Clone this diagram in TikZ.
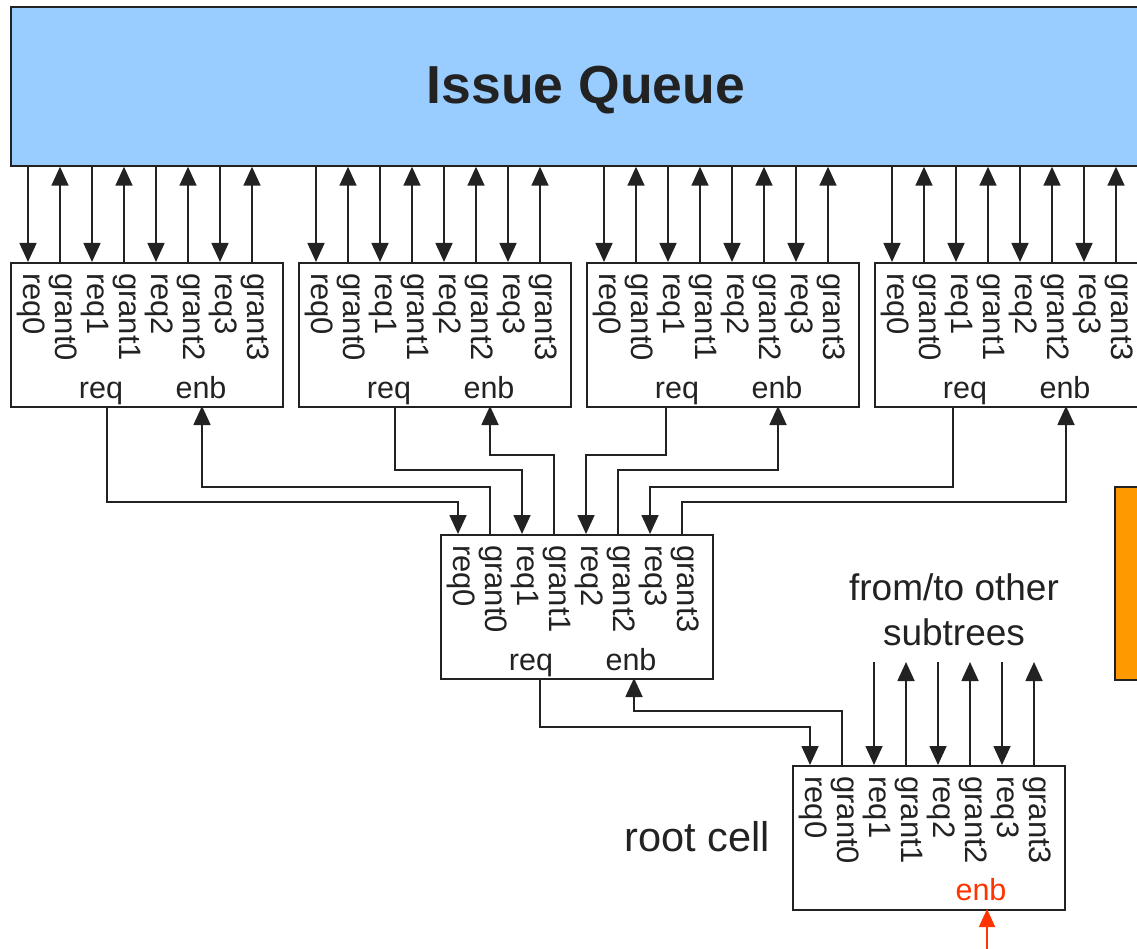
\documentclass[tikz,border=0pt]{standalone}
\usepackage{fontspec}
\setmainfont{Liberation Sans}
\usetikzlibrary{arrows.meta,calc}
\definecolor{iqblue}{HTML}{99CCFF}
\definecolor{ink}{HTML}{222222}
\definecolor{orng}{HTML}{FF9900}
\definecolor{enbred}{HTML}{FF3300}
\begin{document}
\begin{tikzpicture}[x=1pt,y=-1pt,
  box/.style={draw=ink, line width=1.7pt, inner sep=0pt, anchor=north west},
  cellbox/.style={box, minimum width=272pt, minimum height=144pt},
  wire/.style={draw=ink, line width=1.7pt},
  arr/.style={wire, -{Triangle[length=19pt,width=17pt]}},
  redarr/.style={draw=enbred, line width=1.6pt, -{Triangle[length=18pt,width=16pt]}},
  portlbl/.style={rotate=-90, anchor=west, inner sep=0pt, text=ink, font=\fontsize{31}{31}\selectfont},
  sidelbl/.style={anchor=base, inner sep=0pt, text=ink, font=\fontsize{30.5}{30.5}\selectfont},
  note/.style={anchor=base, inner sep=0pt, text=ink, font=\fontsize{37}{37}\selectfont},
]
\useasboundingbox (0,0) rectangle (1137,949);
\clip (0,0) rectangle (1137,949);

% issue queue
\node[box, fill=iqblue, minimum width=1160pt, minimum height=159pt] (iq) at (10,6) {};
\node[font=\bfseries\fontsize{53.5}{53.5}\selectfont, text=ink] (iqtitle) at (586,90) {Issue Queue};

% arbiter cells with their eight ports
\foreach \n/\lx/\ly/\rq/\en in {c1/10/262/97/192, c2/298/262/97/192, c3/586/262/80/192, c4/874/262/79/192, m/440/534/100/194, r/792/765/0/195}{
  \node[cellbox] (\n) at (\lx,\ly) {};
  \foreach \k/\t in {0/req0,1/grant0,2/req1,3/grant1,4/req2,5/grant2,6/req3,7/grant3}{
     \coordinate (\n-\k) at (\lx+18+32*\k, \ly);
     \node[portlbl] (\n-l\k) at (\lx+21+32*\k, \ly+11) {\t};
  }
  \coordinate (\n-rq) at (\lx+\rq, \ly+144);
  \coordinate (\n-en) at (\lx+\en, \ly+144);
}

% req / enb labels
\foreach \n/\lx/\ly in {c1/10/262, c2/298/262, c3/586/262, c4/874/262, m/440/534}{
  \node[sidelbl] (\n-tq) at (\lx+91, \ly+136) {req};
  \node[sidelbl] (\n-te) at (\lx+191, \ly+136) {enb};
}
\node[sidelbl, text=enbred] (r-te) at (981, 900) {enb};

% queue <-> leaf cells
\foreach \n in {c1,c2,c3,c4}{
  \foreach \k in {0,2,4,6} \draw[arr] (\n-\k |- iq.south) -- (\n-\k);
  \foreach \k in {1,3,5,7} \draw[arr] (\n-\k) -- (\n-\k |- iq.south);
}

% leaf cells <-> middle cell
\draw[arr] (c1-rq) -- ++(0,96) -| (m-0);
\draw[arr] (m-1) -- ++(0,-47) -| (c1-en);
\draw[arr] (c2-rq) -- ++(0,64) -| (m-2);
\draw[arr] (m-3) -- ++(0,-79) -| (c2-en);
\draw[arr] (c3-rq) -- ++(0,49) -| (m-4);
\draw[arr] (m-5) -- ++(0,-64) -| (c3-en);
\draw[arr] (c4-rq) -- ++(0,81) -| (m-6);
\draw[arr] (m-7) -- ++(0,-32) -| (c4-en);

% middle cell <-> root cell
\draw[arr] (m-rq) -- ++(0,49) -| (r-0);
\draw[arr] (r-1) -- ++(0,-54) -| (m-en);

% root ports from/to other subtrees
\foreach \k in {2,...,7}{
  \coordinate (x-\k) at ($(r-\k)+(0,-103)$);
}
\foreach \k in {2,4,6} \draw[arr] (x-\k) -- (r-\k);
\foreach \k in {3,5,7} \draw[arr] (r-\k) -- (x-\k);

\node[note] (sub1) at (954,600) {from/to other};
\node[note] (sub2) at (954,645) {subtrees};
\node[font=\fontsize{41.5}{41.5}\selectfont, text=ink] (rootlbl) at (697,837) {root cell};

% root enable input
\coordinate (rsrc) at (987,949);
\draw[redarr] (rsrc) -- (r-en);

% side block
\node[box, fill=orng, minimum width=60pt, minimum height=193pt] (side) at (1114,486) {};
\end{tikzpicture}
\end{document}
